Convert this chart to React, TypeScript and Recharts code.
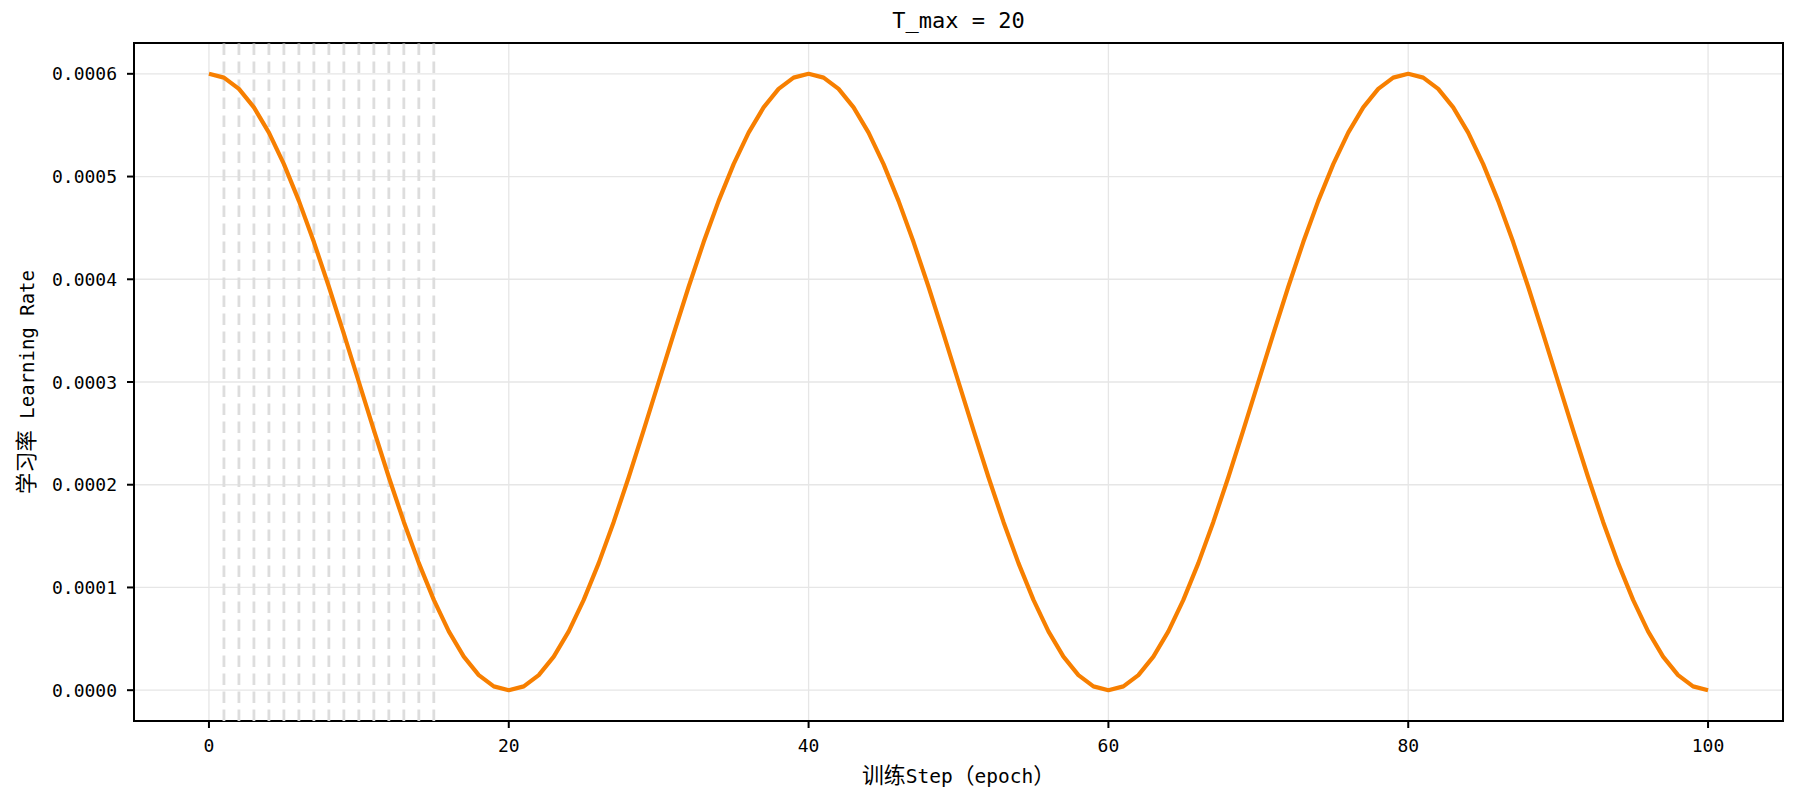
import React from "react";
import {
  LineChart,
  Line,
  XAxis,
  YAxis,
  CartesianGrid,
  ReferenceLine,
  ReferenceArea,
} from "recharts";

const title = "T_max = 20";
const xLabel = "训练Step（epoch）";
const yLabel = "学习率 Learning Rate";

const steps = [
  0, 1, 2, 3, 4, 5, 6, 7, 8, 9, 10, 11, 12, 13, 14, 15, 16, 17, 18, 19, 20,
  21, 22, 23, 24, 25, 26, 27, 28, 29, 30, 31, 32, 33, 34, 35, 36, 37, 38, 39, 40,
  41, 42, 43, 44, 45, 46, 47, 48, 49, 50, 51, 52, 53, 54, 55, 56, 57, 58, 59, 60,
  61, 62, 63, 64, 65, 66, 67, 68, 69, 70, 71, 72, 73, 74, 75, 76, 77, 78, 79, 80,
  81, 82, 83, 84, 85, 86, 87, 88, 89, 90, 91, 92, 93, 94, 95, 96, 97, 98, 99, 100,
];

const learningRate = [
  // 0 - 20
  0.0006, 0.00059631, 0.00058532, 0.0005673, 0.00054271, 0.00051213, 0.00047634,
  0.0004362, 0.00039271, 0.00034693, 0.0003, 0.00025307, 0.00020729, 0.0001638,
  0.00012366, 0.00008787, 0.00005729, 0.0000327, 0.00001468, 0.00000369, 0,
  // 21 - 40
  0.00000369, 0.00001468, 0.0000327, 0.00005729, 0.00008787, 0.00012366,
  0.0001638, 0.00020729, 0.00025307, 0.0003, 0.00034693, 0.00039271, 0.0004362,
  0.00047634, 0.00051213, 0.00054271, 0.0005673, 0.00058532, 0.00059631, 0.0006,
  // 41 - 60
  0.00059631, 0.00058532, 0.0005673, 0.00054271, 0.00051213, 0.00047634,
  0.0004362, 0.00039271, 0.00034693, 0.0003, 0.00025307, 0.00020729, 0.0001638,
  0.00012366, 0.00008787, 0.00005729, 0.0000327, 0.00001468, 0.00000369, 0,
  // 61 - 80
  0.00000369, 0.00001468, 0.0000327, 0.00005729, 0.00008787, 0.00012366,
  0.0001638, 0.00020729, 0.00025307, 0.0003, 0.00034693, 0.00039271, 0.0004362,
  0.00047634, 0.00051213, 0.00054271, 0.0005673, 0.00058532, 0.00059631, 0.0006,
  // 81 - 100
  0.00059631, 0.00058532, 0.0005673, 0.00054271, 0.00051213, 0.00047634,
  0.0004362, 0.00039271, 0.00034693, 0.0003, 0.00025307, 0.00020729, 0.0001638,
  0.00012366, 0.00008787, 0.00005729, 0.0000327, 0.00001468, 0.00000369, 0,
];

// steps marked with dashed vertical lines
const markedSteps = [1, 2, 3, 4, 5, 6, 7, 8, 9, 10, 11, 12, 13, 14, 15];

const xTicks = [0, 20, 40, 60, 80, 100];
const yTicks = [0, 0.0001, 0.0002, 0.0003, 0.0004, 0.0005, 0.0006];
const xDomain = [-5, 105];
const yDomain = [-0.00003, 0.00063];

const data = steps.map((step, i) => ({ step, lr: learningRate[i] }));

const MONO = "'DejaVu Sans Mono', 'Liberation Mono', monospace";
const CJK = "'Noto Sans CJK SC', sans-serif";
const isCjk = (ch: string) => /[\u3000-\u9fff\uff00-\uffef]/.test(ch);

// split a string into CJK / latin runs so each gets its own font
function runs(text: string) {
  const out: { s: string; cjk: boolean }[] = [];
  for (const ch of text) {
    const c = isCjk(ch);
    const last = out[out.length - 1];
    if (last && last.cjk === c) last.s += ch;
    else out.push({ s: ch, cjk: c });
  }
  return out;
}

function MixedText({ x, y, text, size = 18, transform }: any) {
  return (
    <text x={x} y={y} textAnchor="middle" fill="#000" transform={transform}>
      {runs(text).map((r, i) => (
        <tspan
          key={i}
          fontFamily={r.cjk ? CJK : MONO}
          fontSize={r.cjk ? size * 1.12 : size}
          style={{ whiteSpace: "pre" }}
        >
          {r.s}
        </tspan>
      ))}
    </text>
  );
}

const XTick = ({ x, y, payload }: any) => (
  <text x={x} y={y + 24} textAnchor="middle" fontFamily={MONO} fontSize={18} fill="#000">
    {payload.value}
  </text>
);

const YTick = ({ x, y, payload }: any) => (
  <text x={x} y={y + 6.5} textAnchor="end" fontFamily={MONO} fontSize={18} fill="#000">
    {Number(payload.value).toFixed(4)}
  </text>
);

export default function App() {
  return (
    <div style={{ position: "absolute", left: 0, top: 0, width: 1794, height: 807, background: "#fff" }}>
      <LineChart width={1794} height={807} data={data} margin={{ top: 43, right: 11, bottom: 0, left: 0 }}>
        <CartesianGrid stroke="#e6e6e6" strokeWidth={1.3} />
        <XAxis
          dataKey="step"
          type="number"
          domain={xDomain}
          ticks={xTicks}
          interval={0}
          allowDataOverflow
          height={86}
          axisLine={false}
          tickLine={{ stroke: "#000", strokeWidth: 2 }}
          tickSize={7}
          tickMargin={0}
          tick={<XTick />}
          label={{
            content: ({ viewBox }: any) => (
              <MixedText x={viewBox.x + viewBox.width / 2} y={783} text={xLabel} size={19.5} />
            ),
          }}
        />
        <YAxis
          type="number"
          domain={yDomain}
          ticks={yTicks}
          interval={0}
          allowDataOverflow
          width={134}
          axisLine={false}
          tickLine={{ stroke: "#000", strokeWidth: 2 }}
          tickSize={7}
          tickMargin={10}
          tick={<YTick />}
          label={{
            content: ({ viewBox }: any) => {
              const cy = viewBox.y + viewBox.height / 2;
              return (
                <MixedText x={34} y={cy} text={yLabel} size={19} transform={`rotate(-90 34 ${cy})`} />
              );
            },
          }}
        />
        {markedSteps.map((s) => (
          <ReferenceLine
            key={s}
            x={s}
            stroke="#dddddd"
            strokeWidth={2.8}
            strokeDasharray="11.5 6.5"
          />
        ))}
        <Line
          type="linear"
          dataKey="lr"
          stroke="#f77f00"
          strokeWidth={4.2}
          dot={false}
          activeDot={false}
          strokeLinejoin="round"
          isAnimationActive={false}
        />
        <ReferenceArea
          x1={xDomain[0]}
          x2={xDomain[1]}
          y1={yDomain[0]}
          y2={yDomain[1]}
          fill="none"
          fillOpacity={0}
          stroke="#000"
          strokeWidth={2}
          ifOverflow="visible"
          label={{
            content: ({ viewBox }: any) => (
              <MixedText x={viewBox.x + viewBox.width / 2} y={28} text={title} size={22} />
            ),
          }}
        />
      </LineChart>
    </div>
  );
}
